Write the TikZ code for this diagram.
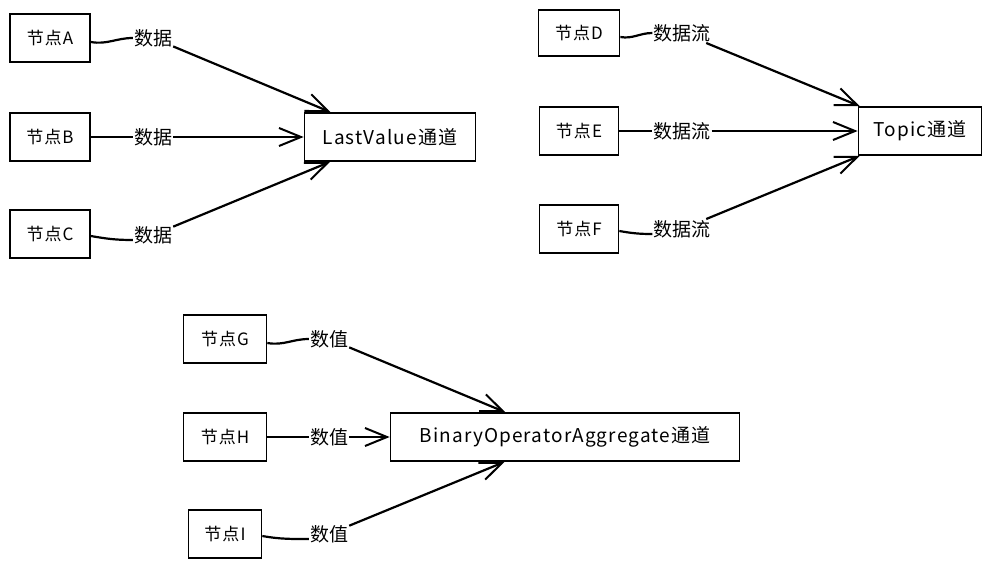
\documentclass[tikz,border=0pt]{standalone}
\usepackage{fontspec}
\setmainfont{Noto Sans CJK SC}
\usetikzlibrary{arrows.meta,calc}

\begin{document}
\begin{tikzpicture}[x=1pt, y=-1pt,
        box/.style = {draw, line width=1.7pt, minimum height=48pt, inner sep=2pt, font=\fontsize{17}{20}\selectfont\addfontfeatures{LetterSpace=6}},
        chan/.style = {box, font=\fontsize{19}{22}\selectfont\addfontfeatures{LetterSpace=6}},
        lbl/.style = {inner sep=1pt, font=\fontsize{19}{22}\selectfont},
        link/.style = {line width=2.2pt},
        flow/.style = {line width=2.2pt, -{Straight Barb[length=22pt, width=18pt, line width=2pt]}}]
        \useasboundingbox (0, 0) rectangle (990, 568);

        \node[box, minimum width=80pt] (a) at (50, 38) {节点A};
        \node[box, minimum width=80pt] (b) at (50, 137) {节点B};
        \node[box, minimum width=80pt] (c) at (50, 234) {节点C};
        \node[chan, minimum width=171pt] (lv) at (390, 137) {LastValue通道};
        \node[lbl] (la) at (153, 38) {数据};
        \node[lbl] (lb) at (153, 137) {数据};
        \node[lbl] (lc) at (153, 235) {数据};

        \node[box, minimum width=81pt, minimum height=46pt] (d) at (579, 33) {节点D};
        \node[box, minimum width=79pt] (e) at (579, 131) {节点E};
        \node[box, minimum width=79pt] (f) at (579, 229) {节点F};
        \node[chan, minimum width=123pt] (tp) at (920, 131) {Topic通道};
        \node[lbl] (ld) at (682, 33) {数据流};
        \node[lbl] (le) at (682, 131) {数据流};
        \node[lbl] (lf) at (682, 229) {数据流};

        \node[box, minimum width=83pt] (g) at (225, 339) {节点G};
        \node[box, minimum width=83pt] (h) at (225, 437) {节点H};
        \node[box, minimum width=73pt] (i) at (225, 534) {节点I};
        \node[chan, minimum width=349pt] (bo) at (565, 437) {BinaryOperatorAggregate通道};
        \node[lbl] (lg) at (329, 339) {数值};
        \node[lbl] (lh) at (329, 437) {数值};
        \node[lbl] (li) at (329, 534) {数值};

        \draw[link] ($(a.east)+(0, 4)$) to[out=-10, in=180] (la.west);
        \draw[link] (b.east) -- (lb.west);
        \draw[link] ($(c.east)+(0, 2)$) to[out=-10, in=180] ($(lc.west)+(0, 5)$);
        \draw[flow] (la) -- (lv);
        \draw[flow] (lb) -- (lv);
        \draw[flow] (lc) -- (lv);

        \draw[link] ($(d.east)+(0, 4)$) to[out=-10, in=180] (ld.west);
        \draw[link] (e.east) -- (le.west);
        \draw[link] ($(f.east)+(0, 2)$) to[out=-10, in=180] ($(lf.west)+(0, 5)$);
        \draw[flow] (ld) -- (tp);
        \draw[flow] (le) -- (tp);
        \draw[flow] (lf) -- (tp);

        \draw[link] ($(g.east)+(0, 4)$) to[out=-10, in=180] (lg.west);
        \draw[link] (h.east) -- (lh.west);
        \draw[link] ($(i.east)+(0, 2)$) to[out=-10, in=180] ($(li.west)+(0, 5)$);
        \draw[flow] (lg) -- (bo);
        \draw[flow] (lh) -- (bo);
        \draw[flow] (li) -- (bo);
\end{tikzpicture}
\end{document}
